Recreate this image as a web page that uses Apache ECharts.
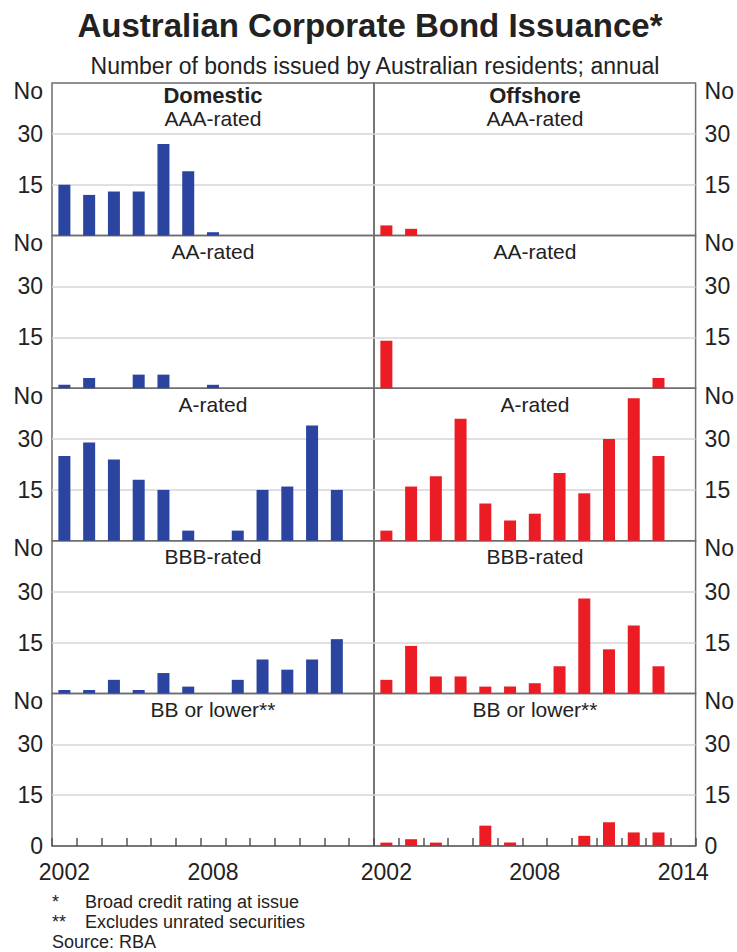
<!DOCTYPE html>
<html>
<head>
<meta charset="utf-8">
<script src="https://cdn.jsdelivr.net/npm/echarts@6/dist/echarts.min.js"></script>
<style>
  html, body { margin: 0; padding: 0; background: #fff; }
  #chart { width: 737px; height: 952px; }
</style>
</head>
<body>
<div id="chart"></div>
<script>
// years on the x axis (2014 only carries a label)
const years = ['2002', '2003', '2004', '2005', '2006', '2007', '2008', '2009', '2010', '2011', '2012', '2013', '2014']
const yTickValues = [0, 15, 30, 45]
const yTickLabels = ['0', '15', '30', 'No']

const columnNames = ['Domestic', 'Offshore']
const ratingNames = ['AAA-rated', 'AA-rated', 'A-rated', 'BBB-rated', 'BB or lower**']

// number of bonds, 2002 to 2013
const domesticAAA = [15, 12, 13, 13, 27, 19, 1, 0, 0, 0, 0, 0]
const offshoreAAA = [3, 2, 0, 0, 0, 0, 0, 0, 0, 0, 0, 0]
const domesticAA = [1, 3, 0, 4, 4, 0, 1, 0, 0, 0, 0, 0]
const offshoreAA = [14, 0, 0, 0, 0, 0, 0, 0, 0, 0, 0, 3]
const domesticA = [25, 29, 24, 18, 15, 3, 0, 3, 15, 16, 34, 15]
const offshoreA = [3, 16, 19, 36, 11, 6, 8, 20, 14, 30, 42, 25]
const domesticBBB = [1, 1, 4, 1, 6, 2, 0, 4, 10, 7, 10, 16]
const offshoreBBB = [4, 14, 5, 5, 2, 2, 3, 8, 28, 13, 20, 8]
const domesticBB = [0, 0, 0, 0, 0, 0, 0, 0, 0, 0, 0, 0]
const offshoreBB = [1, 2, 1, 0, 6, 1, 0, 0, 3, 7, 4, 4]

const footnotes = [
  ['*', 'Broad credit rating at issue'],
  ['**', 'Excludes unrated securities']
]
const sourceText = 'Source: RBA'

const panelData = [
  [domesticAAA, offshoreAAA],
  [domesticAA, offshoreAA],
  [domesticA, offshoreA],
  [domesticBBB, offshoreBBB],
  [domesticBB, offshoreBB]
]

const FONT = '"Liberation Sans", Arial, sans-serif'
const BLUE = '#2b449f'
const RED = '#ec1c24'
const colLeft = [52, 374]
const colWidth = 322
const rowTop = 83
const rowHeight = 152.6

const chart = echarts.init(document.getElementById('chart'), null, { renderer: 'svg' })

const grids = []
const xAxes = []
const yAxes = []
const series = []
const graphics = []

for (let r = 0; r < panelData.length; r++) {
  const isBottom = r === panelData.length - 1
  for (let c = 0; c < 2; c++) {
    const idx = grids.length
    grids.push({
      left: colLeft[c],
      top: rowTop + r * rowHeight,
      width: colWidth,
      height: rowHeight,
      show: true,
      borderColor: '#6e6e6e',
      borderWidth: 1.5,
      backgroundColor: 'transparent'
    })
    xAxes.push({
      type: 'category',
      gridIndex: idx,
      data: years,
      boundaryGap: true,
      axisLine: { show: isBottom, lineStyle: { color: '#6e6e6e', width: 1.5 } },
      axisTick: {
        show: isBottom,
        inside: true,
        length: 8,
        interval: 0,
        lineStyle: { color: '#555', width: 1.5 }
      },
      axisLabel: {
        show: isBottom,
        interval: (i) => i % 6 === 0 && (c === 1 || i < 12),
        margin: 14,
        color: '#222',
        fontFamily: FONT,
        fontSize: 23
      },
      splitLine: { show: false }
    })
    yAxes.push({
      type: 'value',
      gridIndex: idx,
      position: c === 0 ? 'left' : 'right',
      min: 0,
      max: 45,
      interval: 15,
      axisLine: { show: false },
      axisTick: { show: false },
      splitLine: {
        show: true,
        showMinLine: false,
        showMaxLine: false,
        lineStyle: { color: '#d6d6d6', width: 1.5 }
      },
      axisLabel: {
        margin: 9,
        color: '#222',
        fontFamily: FONT,
        fontSize: 23,
        formatter: (v) => {
          const k = yTickValues.indexOf(v)
          if (v === 0 && !isBottom) return ''
          if (v === 45) return '{no|' + yTickLabels[k] + '}'
          return yTickLabels[k]
        },
        rich: {
          no: { fontFamily: FONT, fontSize: 23, color: '#222', padding: [15, 0, 0, 0] }
        }
      }
    })
    series.push({
      type: 'bar',
      xAxisIndex: idx,
      yAxisIndex: idx,
      data: panelData[r][c],
      barWidth: 12,
      itemStyle: { color: c === 0 ? BLUE : RED },
      silent: true
    })

    const cx = colLeft[c] + colWidth / 2
    const top = rowTop + r * rowHeight
    if (r === 0) {
      graphics.push({
        type: 'text',
        style: {
          text: columnNames[c], x: cx, y: top + 12,
          textAlign: 'center', textVerticalAlign: 'middle',
          font: 'bold 22px ' + FONT, fill: '#222'
        }
      })
    }
    graphics.push({
      type: 'text',
      style: {
        text: ratingNames[r], x: cx, y: top + (r === 0 ? 35 : 16),
        textAlign: 'center', textVerticalAlign: 'middle',
        font: '21px ' + FONT, fill: '#222'
      }
    })
  }
}

// title and subtitle
graphics.push({
  type: 'text',
  style: {
    text: 'Australian Corporate Bond Issuance*', x: 370, y: 25,
    textAlign: 'center', textVerticalAlign: 'middle',
    font: 'bold 33px ' + FONT, fill: '#222'
  }
})
graphics.push({
  type: 'text',
  style: {
    text: 'Number of bonds issued by Australian residents; annual', x: 375, y: 66,
    textAlign: 'center', textVerticalAlign: 'middle',
    font: '23px ' + FONT, fill: '#222'
  }
})

// footnotes
footnotes.forEach((f, i) => {
  graphics.push({
    type: 'text',
    style: { text: f[0], x: 52, y: 902 + i * 20, textVerticalAlign: 'middle', font: '18px ' + FONT, fill: '#222' }
  })
  graphics.push({
    type: 'text',
    style: { text: f[1], x: 85, y: 902 + i * 20, textVerticalAlign: 'middle', font: '18px ' + FONT, fill: '#222' }
  })
})
graphics.push({
  type: 'text',
  style: { text: sourceText, x: 52, y: 942, textVerticalAlign: 'middle', font: '18px ' + FONT, fill: '#222' }
})

chart.setOption({
  animation: false,
  backgroundColor: '#fff',
  grid: grids,
  xAxis: xAxes,
  yAxis: yAxes,
  series: series,
  graphic: graphics
})
</script>
</body>
</html>
